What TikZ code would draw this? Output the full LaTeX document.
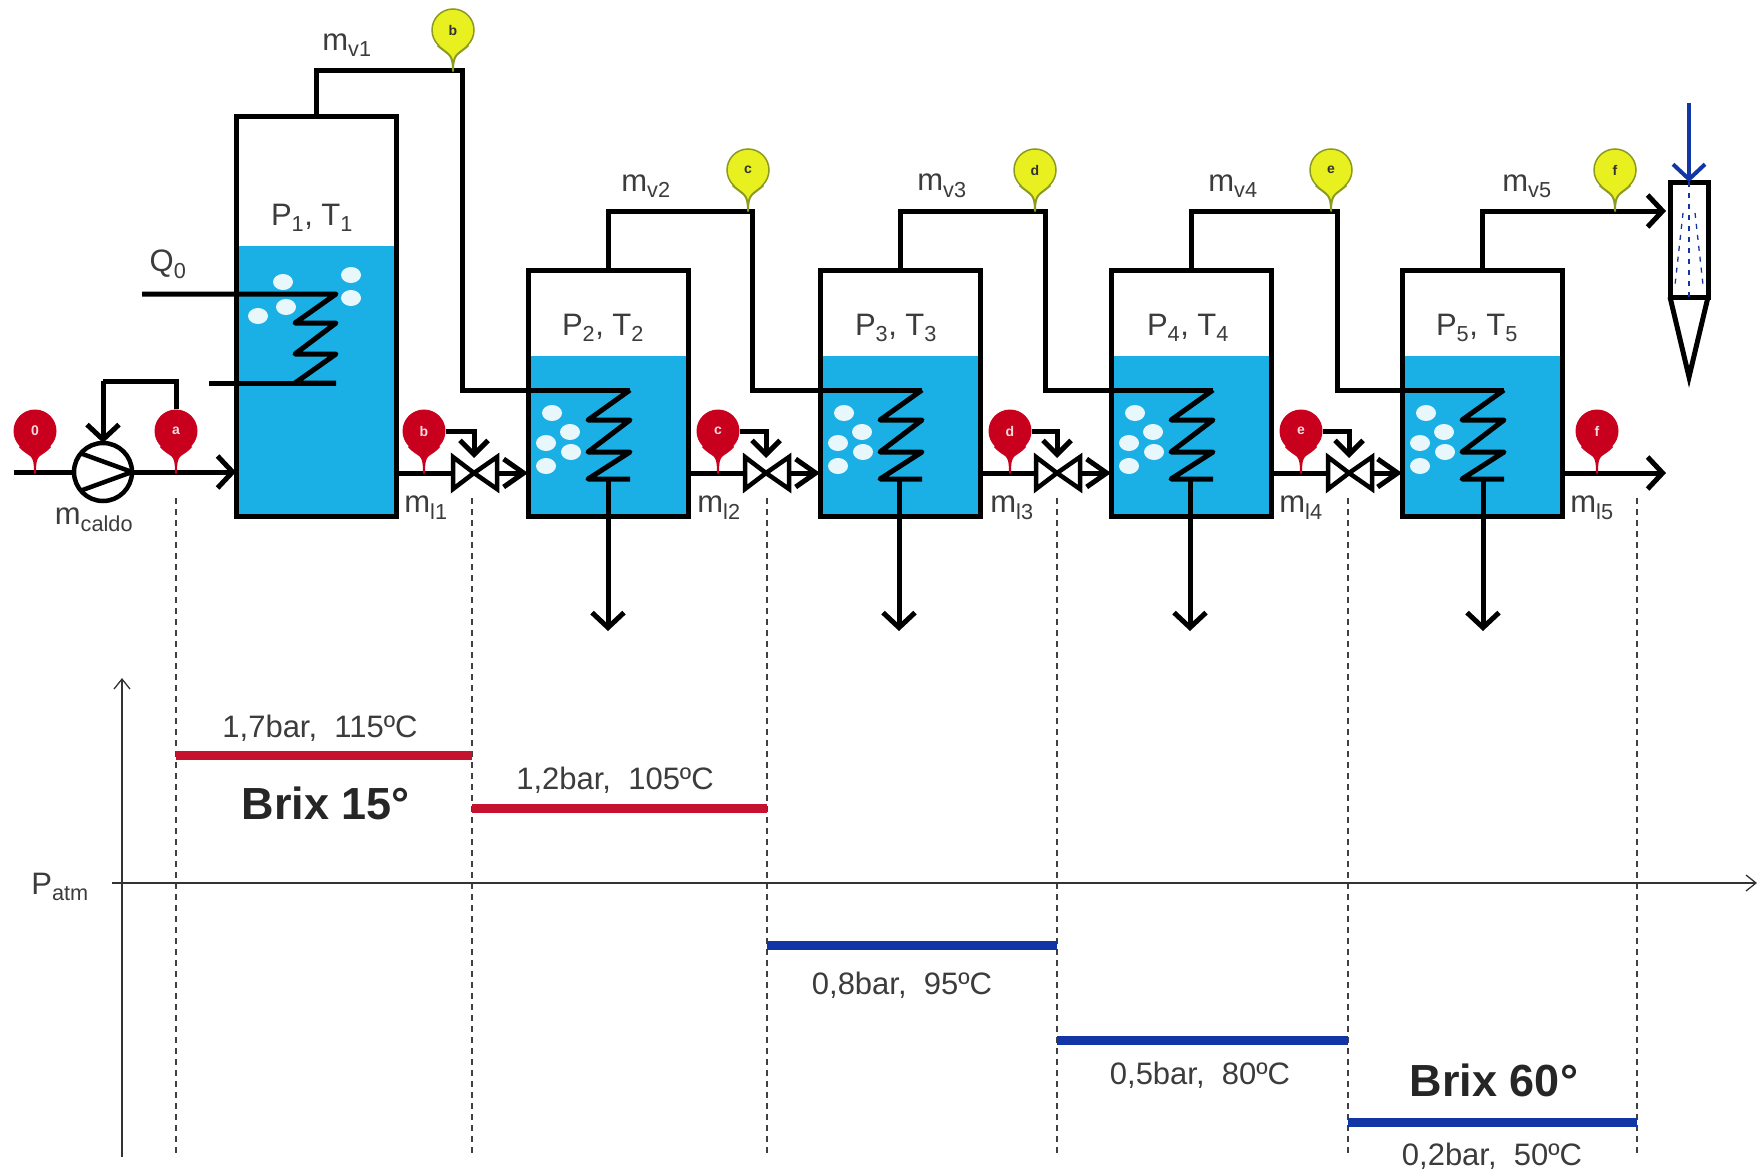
\documentclass[tikz,border=0pt]{standalone}
\usepackage{fontspec}
\setmainfont{Liberation Sans}
\usetikzlibrary{arrows.meta, positioning, shapes.geometric}
\definecolor{water}{HTML}{1AB0E6}
\definecolor{sensred}{HTML}{C8001E}
\definecolor{sensyellow}{HTML}{E8F020}
\definecolor{sensolive}{HTML}{8C9A20}
\definecolor{barred}{HTML}{C4122F}
\definecolor{barblue}{HTML}{1236A6}
\definecolor{labelgray}{HTML}{3C3C3C}
\tikzset{
    pipe/.style={line width=5pt, black},
    watertank/.style={draw=none, fill=water, inner sep=0, outer sep=0},
    tank/.style={draw, line width=5pt, inner sep=0, outer sep=0},
    bubble/.style={ellipse, fill=white!90!water, minimum width=20pt, minimum height=16pt, inner sep=0},
    redsens/.style={circle, fill=sensred, minimum size=43pt, inner sep=0, text=white!85!sensred, font=\fontsize{14}{14}\selectfont\bfseries},
    yellowsens/.style={circle, fill=sensyellow, draw=sensolive, line width=1.5pt, minimum size=42pt, inner sep=0, text=black!80, font=\fontsize{14}{14}\selectfont\bfseries},
    redpin/.style={fill=sensred, draw=sensred, line width=2pt, line join=round},
    yellowpin/.style={fill=sensyellow, draw=sensolive, line width=2pt, line join=round},
    valve/.style={line width=4.5pt, fill=white},
    lbl/.style={inner sep=0, text=labelgray, font=\fontsize{31}{33}\selectfont},
    brix/.style={inner sep=0, text=black!85, font=\fontsize{45}{48}\selectfont\bfseries},
    guide/.style={dash pattern=on 6pt off 5pt, line width=1.3pt, black!75},
    axis/.style={line width=1.3pt, black!80, -{Straight Barb[length=10pt,width=16pt]}},
    spray/.style={barblue, line width=1.3pt, dash pattern=on 5pt off 6pt},
}
\begin{document}
\begin{tikzpicture}[x=1pt, y=-1pt, >={Straight Barb[length=15pt,width=32pt]}]
    \useasboundingbox (0,0) rectangle (1761,1172);
    \fill[white] (0,0) rectangle (1761,1172);

    % water and tanks
    \node[watertank, minimum width=160pt, minimum height=270pt] (water1) at (316,381) {};
    \node[watertank, minimum width=160pt, minimum height=160pt] (water2) at (608,436) {};
    \node[watertank, minimum width=160pt, minimum height=160pt] (water3) at (900,436) {};
    \node[watertank, minimum width=160pt, minimum height=160pt] (water4) at (1191,436) {};
    \node[watertank, minimum width=160pt, minimum height=160pt] (water5) at (1482,436) {};

    % bubbles
    \node[bubble] (b11) at (283,282) {};
    \node[bubble] (b12) at (351,275) {};
    \node[bubble] (b13) at (351,298) {};
    \node[bubble] (b14) at (286,307) {};
    \node[bubble] (b15) at (258,316) {};
    \node[bubble] (b21) at (552,413) {};
    \node[bubble] (b22) at (570,432) {};
    \node[bubble] (b23) at (546,443) {};
    \node[bubble] (b24) at (571,452) {};
    \node[bubble] (b25) at (546,466) {};
    \node[bubble] (b31) at (844,413) {};
    \node[bubble] (b32) at (862,432) {};
    \node[bubble] (b33) at (838,443) {};
    \node[bubble] (b34) at (863,452) {};
    \node[bubble] (b35) at (838,466) {};
    \node[bubble] (b41) at (1135,413) {};
    \node[bubble] (b42) at (1153,432) {};
    \node[bubble] (b43) at (1129,443) {};
    \node[bubble] (b44) at (1154,452) {};
    \node[bubble] (b45) at (1129,466) {};
    \node[bubble] (b51) at (1426,413) {};
    \node[bubble] (b52) at (1444,432) {};
    \node[bubble] (b53) at (1420,443) {};
    \node[bubble] (b54) at (1445,452) {};
    \node[bubble] (b55) at (1420,466) {};

    \node[tank, minimum width=160pt, minimum height=400pt] (tank1) at (316,316) {};
    \node[tank, minimum width=160pt, minimum height=246pt] (tank2) at (608,393) {};
    \node[tank, minimum width=160pt, minimum height=246pt] (tank3) at (900,393) {};
    \node[tank, minimum width=160pt, minimum height=246pt] (tank4) at (1191,393) {};
    \node[tank, minimum width=160pt, minimum height=246pt] (tank5) at (1482,393) {};
    \node[tank, fill=white, minimum width=38pt, minimum height=115pt] (cond) at (1689,239.5) {};

    % sensors
    \node[redsens] (s0) at (35,431) {0};
    \node[redsens] (sa) at (176,431) {a};
    \node[redsens] (sb) at (424,431) {b};
    \node[redsens] (sc) at (718,431) {c};
    \node[redsens] (sd) at (1010,431) {d};
    \node[redsens] (se) at (1301,431) {e};
    \node[redsens] (sf) at (1597,431) {f};
    \node[yellowsens] (yb) at (453,30) {b};
    \node[yellowsens] (yc) at (748,170) {c};
    \node[yellowsens] (yd) at (1035,170) {d};
    \node[yellowsens] (ye) at (1331,170) {e};
    \node[yellowsens] (yf) at (1615,170) {f};

    % feed and pump
    \node[draw, circle, line width=4.5pt, fill=white, minimum size=58pt, inner sep=0, outer sep=0] (pump) at (103,472) {};
    \coordinate (feed) at (14,472);
    \coordinate (ctrl) at (103,381);
    \draw[pipe] (feed) -- (pump);
    \draw[pipe, ->] (pump) -- (tank1.west |- pump);
    \draw[line width=4.5pt] (pump.140) -- (pump.east) -- (pump.-140);
    \draw[pipe] (sa.north) |- (ctrl);
    \draw[pipe, ->] (ctrl) -- (pump.north);

    % vapour lines
    \coordinate (y1) at (462,71);
    \coordinate (y2) at (752,211);
    \coordinate (y3) at (1045,211);
    \coordinate (y4) at (1337,211);
    \coordinate (y5) at (1666,211);
    \coordinate (c1a) at (336,294);
    \coordinate (c1b) at (142,294);
    \coordinate (c1c) at (336,383);
    \coordinate (c1d) at (209,383);
    \coordinate (c2) at (630,390);
    \coordinate (c3) at (922,390);
    \coordinate (c4) at (1213,390);
    \coordinate (c5) at (1504,390);
    \draw[pipe] (tank1.north) |- (y1) |- (c2);
    \draw[pipe] (tank2.north) |- (y2) |- (c3);
    \draw[pipe] (tank3.north) |- (y3) |- (c4);
    \draw[pipe] (tank4.north) |- (y4) |- (c5);
    \draw[pipe, ->] (tank5.north) |- (y5);

    % coils
    \draw[pipe, line join=round] (c1b) -- (c1a) -- ++(-41,29) -- ++(41,0) -- ++(-41,31) -- ++(41,0) -- ++(-41,29) -- (c1c);
    \draw[pipe] (c1d) -- (c1c);
    \draw[pipe, line join=round] (c2) -- ++(-42,30) -- ++(42,0) -- ++(-42,32) -- ++(42,0) -- ++(-42,27) -- ++(42,0);
    \draw[pipe, line join=round] (c3) -- ++(-42,30) -- ++(42,0) -- ++(-42,32) -- ++(42,0) -- ++(-42,27) -- ++(42,0);
    \draw[pipe, line join=round] (c4) -- ++(-42,30) -- ++(42,0) -- ++(-42,32) -- ++(42,0) -- ++(-42,27) -- ++(42,0);
    \draw[pipe, line join=round] (c5) -- ++(-42,30) -- ++(42,0) -- ++(-42,32) -- ++(42,0) -- ++(-42,27) -- ++(42,0);

    % condensate outlets
    \coordinate (d2) at (608,631);
    \coordinate (d3) at (899,631);
    \coordinate (d4) at (1190,631);
    \coordinate (d5) at (1483,631);
    \draw[pipe, ->] (d2 |- 0,479) -- (d2);
    \draw[pipe, ->] (d3 |- 0,479) -- (d3);
    \draw[pipe, ->] (d4 |- 0,479) -- (d4);
    \draw[pipe, ->] (d5 |- 0,479) -- (d5);

    % liquid lines and valves
    \coordinate (v1) at (474,473);
    \coordinate (v2) at (766,473);
    \coordinate (v3) at (1057,473);
    \coordinate (v4) at (1349,473);
    \coordinate (out) at (1666,473);
    \draw[pipe] (tank1.east |- v1) -- (v1);
    \draw[pipe] (tank2.east |- v2) -- (v2);
    \draw[pipe] (tank3.east |- v3) -- (v3);
    \draw[pipe] (tank4.east |- v4) -- (v4);
    \draw[pipe, ->] (tank5.east |- out) -- (out);
    \draw[pipe, -{Straight Barb[length=20pt,width=28pt]}] (v1) -- (tank2.west |- v1);
    \draw[pipe, -{Straight Barb[length=20pt,width=28pt]}] (v2) -- (tank3.west |- v2);
    \draw[pipe, -{Straight Barb[length=20pt,width=28pt]}] (v3) -- (tank4.west |- v3);
    \draw[pipe, -{Straight Barb[length=20pt,width=28pt]}] (v4) -- (tank5.west |- v4);
    \draw[valve] (v1) -- ++(-21,-16) -- ++(0,32) -- cycle (v1) -- ++(23,-16) -- ++(0,32) -- cycle;
    \draw[valve] (v2) -- ++(-21,-16) -- ++(0,32) -- cycle (v2) -- ++(23,-16) -- ++(0,32) -- cycle;
    \draw[valve] (v3) -- ++(-21,-16) -- ++(0,32) -- cycle (v3) -- ++(23,-16) -- ++(0,32) -- cycle;
    \draw[valve] (v4) -- ++(-21,-16) -- ++(0,32) -- cycle (v4) -- ++(23,-16) -- ++(0,32) -- cycle;
    \draw[pipe, -{Straight Barb[length=14pt,width=28pt]}] (sb.east) -| (v1 |- 0,458);
    \draw[pipe, -{Straight Barb[length=14pt,width=28pt]}] (sc.east) -| (v2 |- 0,458);
    \draw[pipe, -{Straight Barb[length=14pt,width=28pt]}] (sd.east) -| (v3 |- 0,458);
    \draw[pipe, -{Straight Barb[length=14pt,width=28pt]}] (se.east) -| (v4 |- 0,458);

    % sensor stems
    \draw[redpin] (s0.-135) .. controls +(11,12) and +(0,-22) .. (s0 |- v1) .. controls +(0,-22) and +(-11,12) .. (s0.-45);
    \draw[redpin] (sa.-135) .. controls +(11,12) and +(0,-22) .. (sa |- v1) .. controls +(0,-22) and +(-11,12) .. (sa.-45);
    \draw[redpin] (sb.-135) .. controls +(11,12) and +(0,-22) .. (sb |- v1) .. controls +(0,-22) and +(-11,12) .. (sb.-45);
    \draw[redpin] (sc.-135) .. controls +(11,12) and +(0,-22) .. (sc |- v1) .. controls +(0,-22) and +(-11,12) .. (sc.-45);
    \draw[redpin] (sd.-135) .. controls +(11,12) and +(0,-22) .. (sd |- v1) .. controls +(0,-22) and +(-11,12) .. (sd.-45);
    \draw[redpin] (se.-135) .. controls +(11,12) and +(0,-22) .. (se |- v1) .. controls +(0,-22) and +(-11,12) .. (se.-45);
    \draw[redpin] (sf.-135) .. controls +(11,12) and +(0,-22) .. (sf |- v1) .. controls +(0,-22) and +(-11,12) .. (sf.-45);
    \draw[yellowpin] (yb.-135) .. controls +(11,10) and +(0,-18) .. (yb |- y1) .. controls +(0,-18) and +(-11,10) .. (yb.-45);
    \draw[yellowpin] (yc.-135) .. controls +(11,10) and +(0,-18) .. (yc |- y2) .. controls +(0,-18) and +(-11,10) .. (yc.-45);
    \draw[yellowpin] (yd.-135) .. controls +(11,10) and +(0,-18) .. (yd |- y2) .. controls +(0,-18) and +(-11,10) .. (yd.-45);
    \draw[yellowpin] (ye.-135) .. controls +(11,10) and +(0,-18) .. (ye |- y2) .. controls +(0,-18) and +(-11,10) .. (ye.-45);
    \draw[yellowpin] (yf.-135) .. controls +(11,10) and +(0,-18) .. (yf |- y2) .. controls +(0,-18) and +(-11,10) .. (yf.-45);

    % condenser
    \coordinate (tip) at (1689,377);
    \coordinate (spraytop) at (1689,103);
    \draw[line width=5pt, line join=miter] (cond.south west) -- (tip) -- (cond.south east);
    \draw[barblue, line width=4pt, ->] (spraytop) -- (cond.north);
    \draw[spray] (cond.north) -- (cond.south);
    \draw[spray] (1683,213) -- (1675,285);
    \draw[spray] (1695,213) -- (1703,285);

    % labels
    \node[lbl] (mv1) at (347,45) {m\textsubscript{v1}};
    \node[lbl] (mv2) at (646,186) {m\textsubscript{v2}};
    \node[lbl] (mv3) at (942,186) {m\textsubscript{v3}};
    \node[lbl] (mv4) at (1233,186) {m\textsubscript{v4}};
    \node[lbl] (mv5) at (1527,186) {m\textsubscript{v5}};
    \node[lbl] (ml1) at (426,508) {m\textsubscript{l1}};
    \node[lbl] (ml2) at (719,508) {m\textsubscript{l2}};
    \node[lbl] (ml3) at (1012,508) {m\textsubscript{l3}};
    \node[lbl] (ml4) at (1301,508) {m\textsubscript{l4}};
    \node[lbl] (ml5) at (1592,508) {m\textsubscript{l5}};
    \node[lbl] (mcaldo) at (94,520) {m\textsubscript{caldo}};
    \node[lbl] (q0) at (168,264) {Q\textsubscript{0}};
    \node[lbl] (pt1) at (312,218) {P\textsubscript{1}, T\textsubscript{1}};
    \node[lbl] (pt2) at (603,328) {P\textsubscript{2}, T\textsubscript{2}};
    \node[lbl] (pt3) at (896,328) {P\textsubscript{3}, T\textsubscript{3}};
    \node[lbl] (pt4) at (1188,328) {P\textsubscript{4}, T\textsubscript{4}};
    \node[lbl] (pt5) at (1477,328) {P\textsubscript{5}, T\textsubscript{5}};

    % pressure chart
    \coordinate (t0) at (176,498);
    \coordinate (t1) at (472,498);
    \coordinate (t2) at (767,498);
    \coordinate (t3) at (1057,498);
    \coordinate (t4) at (1348,498);
    \coordinate (t5) at (1637,498);
    \draw[guide] (t0) -- (t0 |- 0,1157);
    \draw[guide] (t1) -- (t1 |- 0,1157);
    \draw[guide] (t2) -- (t2 |- 0,1157);
    \draw[guide] (t3) -- (t3 |- 0,1157);
    \draw[guide] (t4) -- (t4 |- 0,1157);
    \draw[guide] (t5) -- (t5 |- 0,1157);
    \coordinate (yaxis) at (122,1157);
    \coordinate (xaxis) at (112,883);
    \draw[axis] (yaxis) -- (122,678);
    \draw[axis] (xaxis) -- (1757,883);
    \node[lbl] (patm) at (60,887) {P\textsubscript{atm}};

    \draw[barred, line width=9pt] (t0 |- 0,755) -- (t1 |- 0,755);
    \draw[barred, line width=9pt] (t1 |- 0,808) -- (t2 |- 0,808);
    \draw[barblue, line width=9pt] (t2 |- 0,945) -- (t3 |- 0,945);
    \draw[barblue, line width=9pt] (t3 |- 0,1040) -- (t4 |- 0,1040);
    \draw[barblue, line width=9pt] (t4 |- 0,1122) -- (t5 |- 0,1122);

    \node[lbl] (st1) at (320,728) {1,7bar,\ \ 115ºC};
    \node[lbl] (st2) at (615,780) {1,2bar,\ \ 105ºC};
    \node[lbl] (st3) at (902,985) {0,8bar,\ \ 95ºC};
    \node[lbl] (st4) at (1200,1075) {0,5bar,\ \ 80ºC};
    \node[lbl] (st5) at (1492,1156) {0,2bar,\ \ 50ºC};
    \node[brix] (brix1) at (326,803) {Brix 15°};
    \node[brix] (brix2) at (1494,1080) {Brix 60°};
\end{tikzpicture}
\end{document}
